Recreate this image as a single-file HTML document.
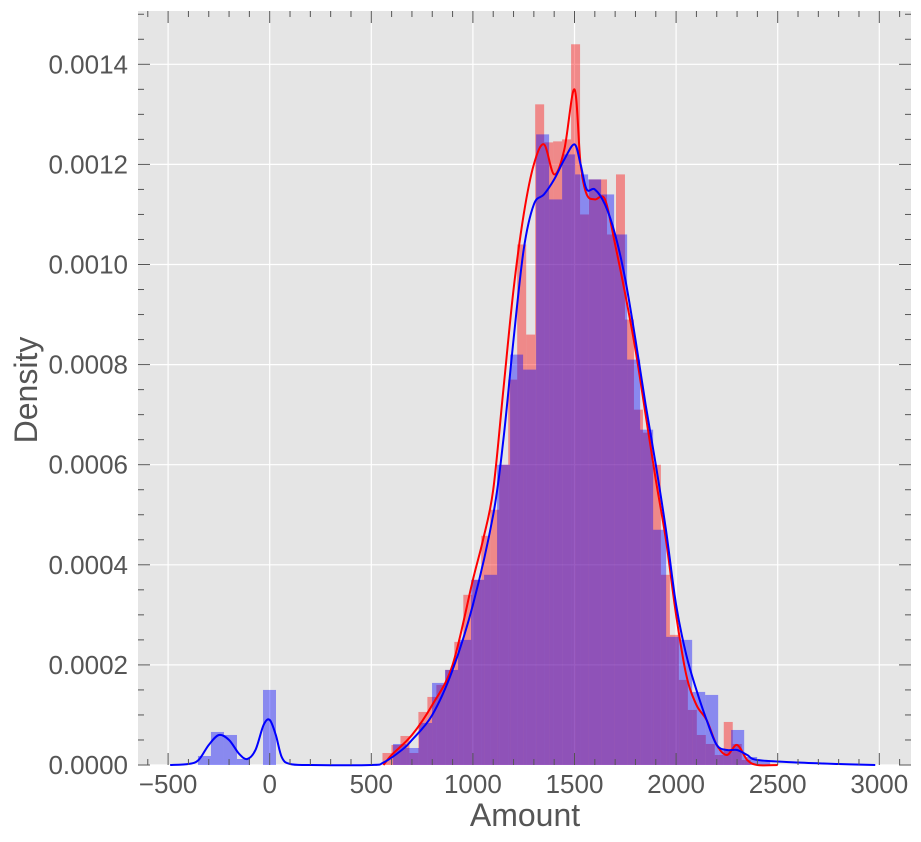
<!DOCTYPE html>
<html><head><meta charset="utf-8">
<style>
html,body{margin:0;padding:0;background:#fff;}
svg{display:block;font-family:"Liberation Sans",Arial,sans-serif;}
</style></head>
<body>
<svg id="chart" width="921" height="842" viewBox="0 0 921 842"></svg>
<script>
// ---- data ----
const redBinStart = 555;
const redBinWidth = 44.2;
const redDensity = [0.000024,0.00004,0.000058,0.000024,0.000106,0.000136,0.00016,0.00019,0.000246,0.00034,0.00037,0.000458,0.00051,0.0006,0.00077,0.00104,0.00086,0.00132,0.001244,0.001246,0.00125,0.00144,0.0011,0.00117,0.00117,0.00106,0.00118,0.00089,0.00071,0.000664,0.0006,0.00038,0.00026,0.00017,0.00011,0.00006,0.000042,0.00002,0.000086,0.000042,0.00001];
const blueBinStart = -353;
const blueBinWidth = 64;
const blueDensity = [0.000018,0.000066,0.00006,0.000012,0,0.00015,0,0,0,0,0,0,0,0,0,0.000042,0.000034,0.000084,0.000164,0.00019,0.00025,0.00037,0.00038,0.0006,0.00082,0.00079,0.00126,0.00113,0.00122,0.00118,0.00117,0.00114,0.00106,0.00081,0.00067,0.00047,0.000256,0.00025,0.000146,0.00014,0.00003,0.00007,0.000016,0.00001];
const redKdeX = [560,600,700,800,900,1000,1050,1100,1150,1200,1250,1300,1350,1400,1450,1500,1530,1560,1600,1650,1700,1750,1800,1850,1900,1950,2000,2050,2100,2150,2200,2250,2300,2350,2400,2500];
const redKdeY = [0,0.00002,0.00006,0.00012,0.0002,0.00037,0.00045,0.00055,0.00075,0.00095,0.0011,0.0012,0.00124,0.00118,0.00123,0.00135,0.0012,0.00114,0.00113,0.00113,0.00104,0.00094,0.00083,0.0007,0.00057,0.00045,0.0003,0.00018,0.00012,0.00009,0.00004,0.00002,0.00004,0.00001,0,0];
const blueKdeX = [-490,-400,-350,-300,-250,-200,-150,-110,-70,-30,0,30,60,100,200,500,560,650,700,800,900,1000,1100,1150,1200,1250,1300,1350,1400,1450,1500,1530,1560,1600,1650,1700,1750,1800,1850,1900,1950,2000,2050,2100,2150,2200,2250,2300,2350,2400,2600,2800,2980];
const blueKdeY = [0,0.000002,0.00001,0.00004,0.00006,0.00005,0.000022,0.000012,0.00003,0.00008,0.00009,0.00006,0.000015,0.000002,0,0,0.000005,0.00003,0.00005,0.0001,0.00019,0.00032,0.0005,0.00065,0.00085,0.00103,0.00112,0.00114,0.00117,0.00121,0.00124,0.0012,0.00115,0.00115,0.00112,0.00106,0.00097,0.00085,0.00072,0.0006,0.00047,0.00032,0.00022,0.00015,0.00009,0.00004,0.00003,0.00003,0.00002,0.00001,0.000005,0.000002,0];
const xTicks = [-500,0,500,1000,1500,2000,2500,3000];
const xTickLabels = ["\u2212500","0","500","1000","1500","2000","2500","3000"];
const yTicks = [0,0.0002,0.0004,0.0006,0.0008,0.0010,0.0012,0.0014];
const yTickLabels = ["0.0000","0.0002","0.0004","0.0006","0.0008","0.0010","0.0012","0.0014"];

// ---- layout ----
const L=138,R=911,T=11,B=765;
const xs = v => 269.7 + v*0.2032;
const ys = d => 765 - d*500500;
const NS="http://www.w3.org/2000/svg";
const svg=document.getElementById('chart');
function mk(tag,attrs,parent){const e=document.createElementNS(NS,tag);for(const k in attrs)e.setAttribute(k,attrs[k]);(parent||svg).appendChild(e);return e;}

const bg=mk('rect',{x:L,y:T,width:R-L,height:B-T,fill:'#e5e5e5'});



const grid=mk('g',{stroke:'#ffffff','stroke-width':1.2});


xTicks.forEach(v=>mk('line',{x1:xs(v),x2:xs(v),y1:T,y2:B},grid));
yTicks.forEach(v=>mk('line',{x1:L,x2:R,y1:ys(v),y2:ys(v)},grid));

const redG=mk('g',{fill:'rgba(255,0,0,0.4)'});


redDensity.forEach((d,i)=>{
  const x0=xs(redBinStart+i*redBinWidth), x1=xs(redBinStart+(i+1)*redBinWidth);
  if(d<=0)return;
  const r=mk('rect',{x:x0,y:ys(d),width:x1-x0,height:ys(0)-ys(d)},redG);
  
  
});
const blueG=mk('g',{fill:'rgba(0,0,255,0.4)'});


blueDensity.forEach((d,i)=>{
  const x0=xs(blueBinStart+i*blueBinWidth), x1=xs(blueBinStart+(i+1)*blueBinWidth);
  if(d<=0)return;
  const r=mk('rect',{x:x0,y:ys(d),width:x1-x0,height:ys(0)-ys(d)},blueG);
  
  
});

function smooth(X,Y){
  const p=X.map((x,i)=>[xs(x),ys(Y[i])]);
  let s='M'+p[0][0]+','+p[0][1];
  for(let i=0;i<p.length-1;i++){
    const p0=p[Math.max(0,i-1)],p1=p[i],p2=p[i+1],p3=p[Math.min(p.length-1,i+2)];
    const c1=[p1[0]+(p2[0]-p0[0])/6,p1[1]+(p2[1]-p0[1])/6];
    const c2=[p2[0]-(p3[0]-p1[0])/6,p2[1]-(p3[1]-p1[1])/6];
    s+='C'+c1[0]+','+c1[1]+' '+c2[0]+','+c2[1]+' '+p2[0]+','+p2[1];
  }
  return s;
}
const kr=mk('path',{d:smooth(redKdeX,redKdeY),fill:'none',stroke:'#ff0000','stroke-width':2});


const kb=mk('path',{d:smooth(blueKdeX,blueKdeY),fill:'none',stroke:'#0000ff','stroke-width':2});



// ticks (inward, all sides)
const tk=mk('g',{stroke:'#555','stroke-width':1});


for(let v=-600;v<=3100;v+=100){
  const x=xs(v); if(x<L||x>R)continue;
  const len=(v%500===0)?12:6;
  mk('line',{x1:x,x2:x,y1:B,y2:B-len},tk);
  mk('line',{x1:x,x2:x,y1:T,y2:T+len},tk);
}
for(let k=0;k<=30;k++){
  const v=k*0.00005,y=ys(v); if(y<T)continue;
  const len=(k%4===0)?12:6;
  mk('line',{x1:L,x2:L+len,y1:y,y2:y},tk);
  mk('line',{x1:R,x2:R-len,y1:y,y2:y},tk);
}

const xl=mk('g',{fill:'#555','font-size':26,'text-anchor':'middle'});


xTicks.forEach((v,i)=>{const t=mk('text',{x:xs(v),y:793},xl);t.textContent=xTickLabels[i];});
const yl=mk('g',{fill:'#555','font-size':26,'text-anchor':'end'});


yTicks.forEach((v,i)=>{const t=mk('text',{x:128,y:ys(v)+9},yl);t.textContent=yTickLabels[i];});

const xt=mk('text',{x:525,y:826,fill:'#555','font-size':32,'text-anchor':'middle'});
xt.textContent='Amount';


const yt=mk('text',{x:0,y:0,fill:'#555','font-size':32,'text-anchor':'middle',transform:'translate(37,390) rotate(-90)'});
yt.textContent='Density';


</script>
</body></html>
